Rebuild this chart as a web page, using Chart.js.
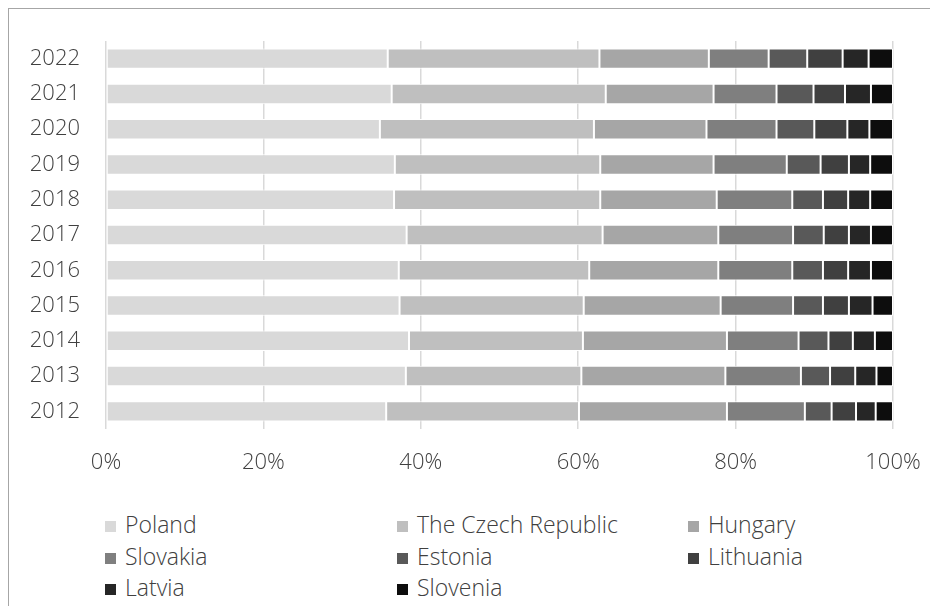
<!DOCTYPE html>
<html>
<head>
<meta charset="utf-8">
<script src="https://cdn.jsdelivr.net/npm/chart.js@4.4.0/dist/chart.umd.min.js"></script>
<style>
  html, body { margin: 0; padding: 0; background: #fff; overflow: hidden; }
  body { width: 930px; height: 606px; position: relative; font-family: "Open Sans", sans-serif; }
  #frame { position: absolute; left: 8px; top: 8px; width: 1000px; height: 1000px; border: 1px solid #a6a6a6; }
  #chartWrap { position: absolute; left: 0; top: 0; width: 930px; height: 490px; }
  .legend-item { position: absolute; font-size: 23px; font-weight: 300; color: #404040; line-height: 26px; white-space: nowrap; }
  .legend-item span.box { display: inline-block; width: 11px; height: 11px; margin-right: 9px; vertical-align: 1px; }
</style>
</head>
<body>
<div id="frame"></div>
<div id="chartWrap"><canvas id="myChart" width="930" height="490"></canvas></div>
<div id="legend"></div>
<script>
// years, oldest first (axis is reversed so 2022 sits on top)
const years = ['2012', '2013', '2014', '2015', '2016', '2017', '2018', '2019', '2020', '2021', '2022'];

// share of each country, %
const poland    = [35.6, 38.1, 38.5, 37.3, 37.2, 38.2, 36.6, 36.7, 34.8, 36.3, 35.8];
const czech     = [24.5, 22.3, 22.1, 23.4, 24.2, 24.9, 26.2, 26.1, 27.2, 27.2, 26.9];
const hungary   = [18.8, 18.3, 18.3, 17.4, 16.4, 14.7, 14.8, 14.4, 14.3, 13.7, 13.9];
const slovakia  = [9.9, 9.6, 9.1, 9.2, 9.4, 9.5, 9.6, 9.3, 8.9, 8.0, 7.6];
const estonia   = [3.4, 3.7, 3.8, 3.8, 3.9, 3.9, 3.9, 4.3, 4.8, 4.7, 4.9];
const lithuania = [3.1, 3.2, 3.1, 3.3, 3.2, 3.2, 3.2, 3.6, 4.2, 4.0, 4.5];
const latvia    = [2.5, 2.7, 2.8, 3.0, 2.9, 2.8, 2.8, 2.7, 2.8, 3.3, 3.3];
const slovenia  = [2.2, 2.1, 2.3, 2.6, 2.8, 2.8, 2.9, 2.9, 3.0, 2.8, 3.1];

const xTicks = [0, 20, 40, 60, 80, 100];

const series = [
    { label: 'Poland', data: poland, color: '#d9d9d9' },
    { label: 'The Czech Republic', data: czech, color: '#bfbfbf' },
    { label: 'Hungary', data: hungary, color: '#a6a6a6' },
    { label: 'Slovakia', data: slovakia, color: '#7f7f7f' },
    { label: 'Estonia', data: estonia, color: '#595959' },
    { label: 'Lithuania', data: lithuania, color: '#404040' },
    { label: 'Latvia', data: latvia, color: '#262626' },
    { label: 'Slovenia', data: slovenia, color: '#0d0d0d' }
];

const font = { family: '"Open Sans", sans-serif', size: 22, weight: '300' };

const ctx = document.getElementById('myChart').getContext('2d');
const chart = new Chart(ctx, {
    type: 'bar',
    data: {
        labels: years,
        datasets: series.map(s => ({
            label: s.label,
            data: s.data,
            backgroundColor: s.color,
            borderColor: '#ffffff',
            borderWidth: 1,
            borderSkipped: false,
            barPercentage: 0.58,
            categoryPercentage: 1
        }))
    },
    options: {
        indexAxis: 'y',
        responsive: false,
        animation: false,
        layout: { padding: { top: 41, right: 37, left: 0, bottom: 0 } },
        scales: {
            x: {
                stacked: true,
                min: 0,
                max: 100,
                afterBuildTicks: axis => { axis.ticks = xTicks.map(v => ({ value: v })); },
                afterFit: axis => {
                    axis.height = 61;
                    axis.paddingLeft = 0;
                    axis.paddingRight = 0;
                },
                grid: { color: '#d9d9d9', lineWidth: 1.5, drawTicks: false },
                border: { display: false },
                ticks: {
                    padding: 21,
                    color: '#404040',
                    font: font,
                    maxRotation: 0,
                    callback: v => v + '%'
                }
            },
            y: {
                stacked: true,
                reverse: true,
                afterFit: axis => { axis.width = 106; },
                grid: { display: false, drawTicks: false },
                border: { display: false },
                ticks: { padding: 26, color: '#404040', font: font }
            }
        },
        plugins: {
            legend: { display: false },
            title: { display: false },
            tooltip: { enabled: false }
        }
    }
});

// legend in three columns, like the original
const legendCols = [105, 397, 688];
const legendRows = [511, 543, 574];
const legend = document.getElementById('legend');
chart.data.datasets.forEach((ds, i) => {
    const item = document.createElement('div');
    item.className = 'legend-item';
    item.style.left = legendCols[i % 3] + 'px';
    item.style.top = legendRows[Math.floor(i / 3)] + 'px';
    item.innerHTML = '<span class="box" style="background:' + ds.backgroundColor + '"></span>' + ds.label;
    legend.appendChild(item);
});
</script>
</body>
</html>
